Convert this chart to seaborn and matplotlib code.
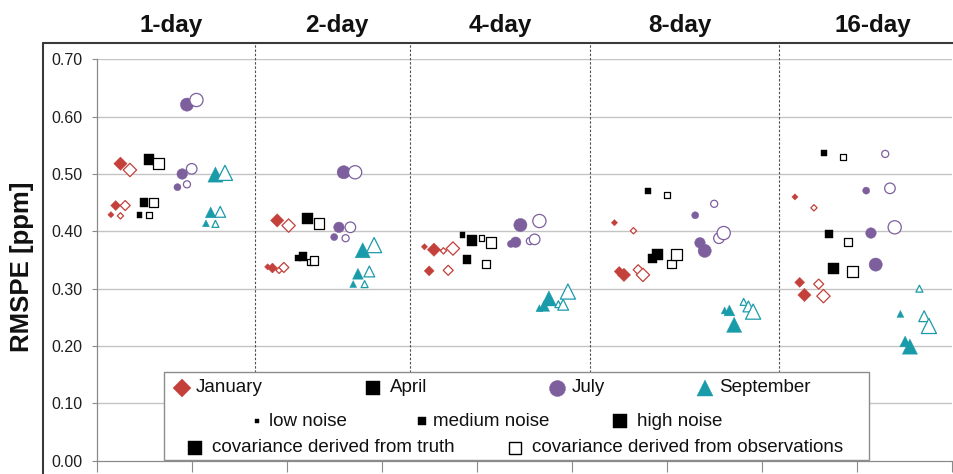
import numpy as np
import pandas as pd
import matplotlib.pyplot as plt
import seaborn as sns
from matplotlib.lines import Line2D
from matplotlib.patches import Rectangle

# forecast horizons (panels), months, noise levels
horizons = ['1-day', '2-day', '4-day', '8-day', '16-day']
months = ['January', 'April', 'July', 'September']
noise_levels = ['low', 'medium', 'high']

# RMSPE [ppm]; one row per horizon, columns = low / medium / high noise
jan_truth = [[0.429, 0.445, 0.518], [0.338, 0.336, 0.419], [0.373, 0.331, 0.368], [0.415, 0.330, 0.324], [0.460, 0.311, 0.289]]
jan_obs = [[0.427, 0.445, 0.507], [0.332, 0.337, 0.410], [0.366, 0.332, 0.370], [0.401, 0.333, 0.324], [0.441, 0.308, 0.287]]
apr_truth = [[0.428, 0.450, 0.525], [0.354, 0.356, 0.423], [0.393, 0.351, 0.384], [0.471, 0.353, 0.360], [0.537, 0.395, 0.335]]
apr_obs = [[0.428, 0.450, 0.519], [0.347, 0.349, 0.414], [0.388, 0.343, 0.380], [0.464, 0.343, 0.360], [0.529, 0.381, 0.330]]
jul_truth = [[0.477, 0.500, 0.621], [0.390, 0.407, 0.503], [0.378, 0.381, 0.411], [0.428, 0.380, 0.366], [0.471, 0.397, 0.342]]
jul_obs = [[0.482, 0.509, 0.629], [0.388, 0.407, 0.503], [0.383, 0.386, 0.418], [0.448, 0.388, 0.397], [0.535, 0.475, 0.407]]
sep_truth = [[0.414, 0.433, 0.499], [0.308, 0.326, 0.367], [0.266, 0.270, 0.283], [0.262, 0.262, 0.237], [0.256, 0.208, 0.199]]
sep_obs = [[0.413, 0.434, 0.502], [0.308, 0.330, 0.376], [0.273, 0.272, 0.295], [0.277, 0.269, 0.260], [0.300, 0.252, 0.235]]

# layout of the groups along the (unlabelled) x axis
group_start = [[0.15, 0.45, 0.85, 1.15], [1.80, 2.12, 2.50, 2.70], [3.45, 3.85, 4.36, 4.66],
               [5.45, 5.80, 6.30, 6.61], [7.35, 7.66, 8.10, 8.46]]
obs_shift = [0.10, 0.12, 0.20, 0.20, 0.20]
noise_step = 0.05
dividers = [1.666, 3.298, 5.193, 7.18]
title_x = [0.78, 2.53, 4.245, 6.14, 8.17]

colors = {'January': '#C3403B', 'April': '#000000', 'July': '#7D5F9E', 'September': '#1A9BAA'}
markers = {'January': 'D', 'April': 's', 'July': 'o', 'September': '^'}
marker_ms = {'January': [3.2, 5.1, 6.8], 'April': [4.2, 6.1, 7.8],
             'July': [5.1, 7.6, 9.5], 'September': [5.0, 7.8, 10.9]}

series = {'January': (jan_truth, jan_obs), 'April': (apr_truth, apr_obs),
          'July': (jul_truth, jul_obs), 'September': (sep_truth, sep_obs)}

rows = []
for m, month in enumerate(months):
    truth, obs = series[month]
    for h, hz in enumerate(horizons):
        for n, lvl in enumerate(noise_levels):
            for cov, vals in (('truth', truth), ('obs', obs)):
                x = group_start[h][m] + n * noise_step + (obs_shift[h] if cov == 'obs' else 0)
                rows.append(dict(horizon=hz, month=month, noise=lvl, cov=cov, rmspe=vals[h][n], x=x))
df = pd.DataFrame(rows)

sns.set_style('white')
plt.rcParams['font.family'] = ['Liberation Sans', 'DejaVu Sans']

W, H = 954, 474
fig = plt.figure(figsize=(W / 100, H / 100), dpi=100)
ax = fig.add_axes([96.7 / W, 13.3 / H, 855 / W, 401.4 / H])
ax.set_xlim(0, 9)
ax.set_ylim(0, 0.70)

for month in months:
    c = colors[month]
    sizes = {lvl: ms ** 2 for lvl, ms in zip(noise_levels, marker_ms[month])}
    for cov in ['truth', 'obs']:
        sub = df[(df['month'] == month) & (df['cov'] == cov)]
        if cov == 'truth':
            sns.scatterplot(data=sub, x='x', y='rmspe', size='noise', sizes=sizes, size_order=noise_levels,
                            marker=markers[month], color=c, edgecolor=c, linewidth=0.3,
                            legend=False, ax=ax, zorder=3, clip_on=False)
        else:
            sns.scatterplot(data=sub, x='x', y='rmspe', size='noise', sizes=sizes, size_order=noise_levels,
                            marker=markers[month], color='white', edgecolor=c, linewidth=0.9,
                            legend=False, ax=ax, zorder=4, clip_on=False)

# grid, axes
for v in np.arange(0.1, 0.71, 0.1):
    ax.axhline(v, color='#C4C4C4', lw=1.0, zorder=1)
for s in ['top', 'right']:
    ax.spines[s].set_visible(False)
for s in ['left', 'bottom']:
    ax.spines[s].set_color('#8A8A8A')
    ax.spines[s].set_linewidth(0.9)
ax.set_xticks(np.arange(0, 10))
ax.set_xticklabels([])
ax.set_yticks(np.arange(0, 0.71, 0.1))
ax.set_yticklabels([f'{v:.2f}' for v in np.arange(0, 0.71, 0.1)])
ax.tick_params(axis='x', direction='out', length=8, width=0.8, color='#8A8A8A', bottom=True)
ax.tick_params(axis='y', direction='out', length=3.4, width=0.8, color='#8A8A8A', pad=7,
               labelsize=11.5, labelcolor='#1E1E1E', left=True)
ax.set_xlabel('')
ax.set_ylabel('')

top_val = 0.70 + 16.0 / 573.4
ax.vlines(dividers, 0, top_val, colors='#505050', lw=0.8, linestyles=(0, (2.2, 1.6)),
          clip_on=False, zorder=2)

for hz, tx in zip(horizons, title_x):
    fig.text((96.7 + tx * 95) / W, 1 - 32 / H, hz, ha='center', va='baseline',
             fontsize=17.5, fontweight='bold', color='#111111')

fig.text(21.7 / W, 1 - 266.5 / H, 'RMSPE [ppm]', rotation=90, ha='center', va='center',
         fontsize=18.5, fontweight='bold', color='#111111')

# outer chart frame (left and top)
fig.add_artist(Line2D([42.7 / W, 42.7 / W], [0, 1 - 43.3 / H], color='#3A3A3A', lw=1.5,
                      transform=fig.transFigure))
fig.add_artist(Line2D([42.7 / W, 1], [1 - 43.3 / H, 1 - 43.3 / H], color='#3A3A3A', lw=1.5,
                      transform=fig.transFigure))


# legend drawn by hand in pixel positions
def fp(x, y):
    return x / W, 1 - y / H


lx, ly = fp(164.3, 460)
fig.add_artist(Rectangle((lx, ly), 705 / W, 88.3 / H, transform=fig.transFigure,
                         facecolor='white', edgecolor='#8C8C8C', lw=1.0, zorder=5))

leg_font = 13.5


def leg_item(mx, tx, y, label, marker, ms, color, mfc=None):
    fig.add_artist(Line2D([mx / W], [1 - y / H], marker=marker, markersize=ms, linestyle='none',
                          color=color, mfc=color if mfc is None else mfc, mec=color,
                          mew=1.0 if mfc else 0.3, transform=fig.transFigure, zorder=6))
    fig.text(tx / W, 1 - y / H, label, ha='left', va='center', fontsize=leg_font,
             color='#111111', zorder=7)


leg_item(182, 196, 388, 'January', 'D', 8.7, colors['January'])
leg_item(373, 390, 388, 'April', 's', 9.6, colors['April'])
leg_item(557, 572, 388, 'July', 'o', 11.5, colors['July'])
leg_item(705, 719, 388, 'September', '^', 11.2, colors['September'])
leg_item(257, 269.4, 421, 'low noise', 's', 3.2, 'black')
leg_item(422.5, 433, 421, 'medium noise', 's', 5.8, 'black')
leg_item(620, 637, 421, 'high noise', 's', 9.6, 'black')
leg_item(195, 212, 448, 'covariance derived from truth', 's', 9.6, 'black')
leg_item(515, 532, 448, 'covariance derived from observations', 's', 8.8, 'black', mfc='white')

fig.savefig('out.png', dpi=100)
